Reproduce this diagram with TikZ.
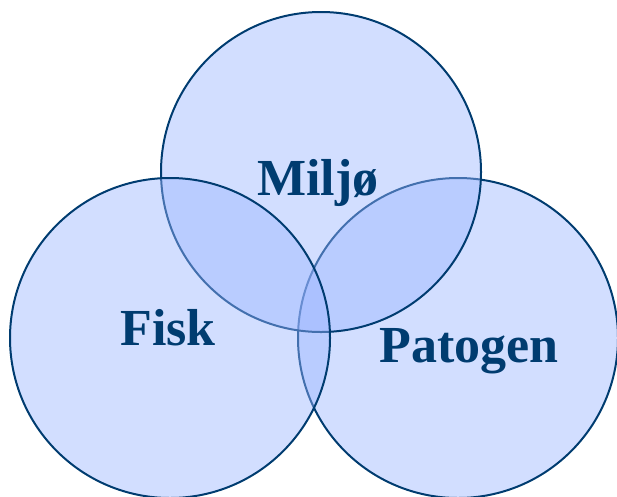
\documentclass[tikz,border=0pt]{standalone}
\usepackage{fontspec}
\setmainfont{Liberation Serif}
\usepackage{tikz}
\usetikzlibrary{positioning}

\definecolor{setline}{RGB}{0,60,112}
\definecolor{setfill}{RGB}{153,180,255}

\begin{document}
\begin{tikzpicture}[
            x=1pt, y=-1pt,
            set/.style={draw=setline, line width=2pt, fill=setfill, fill opacity=0.44, circle, minimum size=320pt, inner sep=0pt},
            setname/.style={text=setline, font=\fontsize{52}{60}\selectfont\bfseries, anchor=base, inner sep=0pt}
        ]
        \useasboundingbox (0,0) rectangle (617,496);

        % Sets
        \node[set] (patogen) at (458,338) {};
        \node[set] (miljo) at (321,172) {};
        \node[set] (fisk) at (170,338) {};

        % Labels
        \node[setname] (miljo-name) at (318,195) {Miljø};
        \node[setname] (fisk-name) at (168,345) {Fisk};
        \node[setname] (patogen-name) at (469,362) {Patogen};

    \end{tikzpicture}
\end{document}
